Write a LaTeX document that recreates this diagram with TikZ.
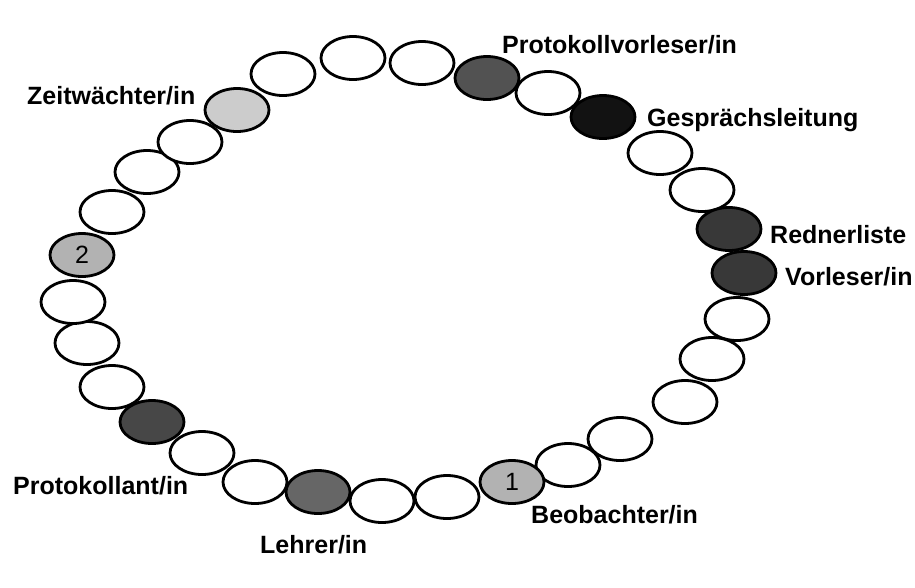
\documentclass[tikz,border=0pt]{standalone}
\usepackage{fontspec}
\setmainfont{Liberation Sans}
\usetikzlibrary{shapes.geometric}

\begin{document}
\begin{tikzpicture}[x=1pt, y=-1pt,
  seat/.style = {draw, ellipse, line width=2.8pt, fill=white, minimum width=64pt, minimum height=43pt, inner sep=0pt, font=\fontsize{25}{27}\selectfont},
  role/.style = {anchor=base west, inner sep=0pt, font=\bfseries\fontsize{25}{29}\selectfont}]

\useasboundingbox (0,0) rectangle (915,587);

% ring of seats, clockwise from the left
\node[seat] (s1) at (82,255) [fill=black!30] {2};
\node[seat] (s2) at (112,212) {};
\node[seat] (s3) at (147,172) {};
\node[seat] (s4) at (190,142) {};
\node[seat] (zeit) at (237,110) [fill=black!20] {};
\node[seat] (s6) at (283,74) {};
\node[seat] (s7) at (353,58) {};
\node[seat] (s8) at (422,63) {};
\node[seat] (pvor) at (487,78) [fill=black!68] {};
\node[seat] (s10) at (548,93) {};
\node[seat] (leit) at (603,117) [fill=black!93] {};
\node[seat] (s12) at (660,153) {};
\node[seat] (s13) at (702,190) {};
\node[seat] (red) at (729,229) [fill=black!78] {};
\node[seat] (vor) at (744,273) [fill=black!78] {};
\node[seat] (s16) at (737,319) {};
\node[seat] (s17) at (712,359) {};
\node[seat] (s18) at (685,402) {};
\node[seat] (s19) at (620,439) {};
\node[seat] (s20) at (568,465) {};
\node[seat] (s21) at (512,482) [fill=black!30] {1};
\node[seat] (s22) at (447,497) {};
\node[seat] (s23) at (382,501) {};
\node[seat] (lehr) at (318,492) [fill=black!60] {};
\node[seat] (s25) at (255,482) {};
\node[seat] (s26) at (202,453) {};
\node[seat] (prot) at (152,422) [fill=black!72] {};
\node[seat] (s28) at (112,387) {};
\node[seat] (s29) at (87,343) {};
\node[seat] (s30) at (73,302) {};

% roles
\node[role] (Lzeit) at (27,104) {Zeitwächter/in};
\node[role] (Lpvor) at (502,53) {Protokollvorleser/in};
\node[role] (Lleit) at (647,126) {Gesprächsleitung};
\node[role] (Lred) at (770,243) {Rednerliste};
\node[role] (Lvor) at (785,285) {Vorleser/in};
\node[role] (Lbeo) at (531,523) {Beobachter/in};
\node[role] (Llehr) at (260,553) {Lehrer/in};
\node[role] (Lprot) at (13,494) {Protokollant/in};

\end{tikzpicture}
\end{document}
